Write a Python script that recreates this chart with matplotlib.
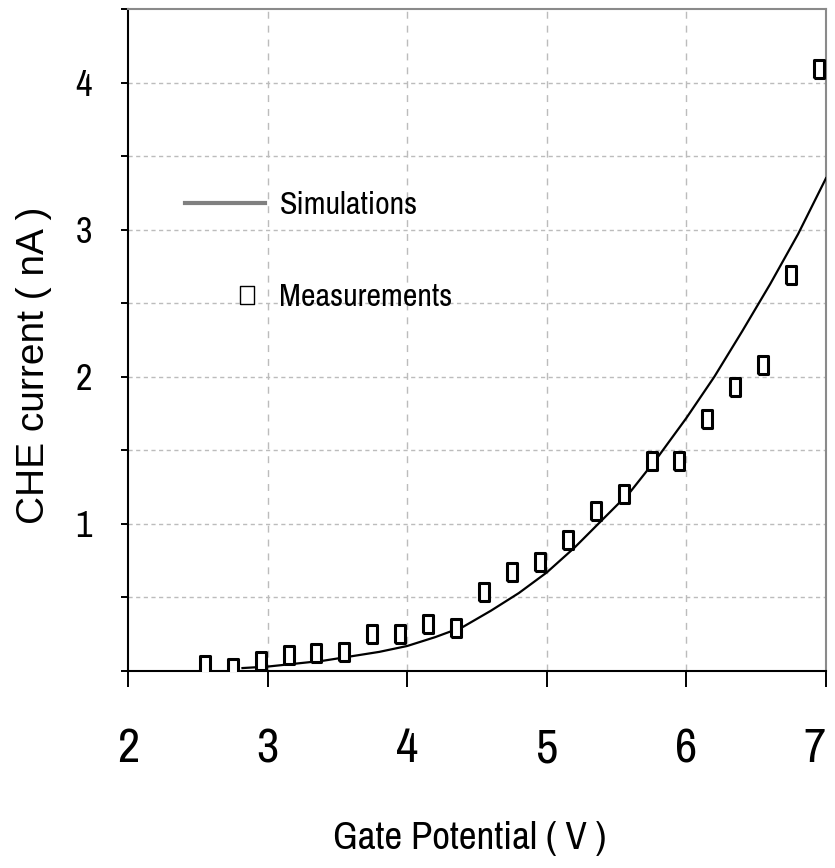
import numpy as np
import matplotlib
matplotlib.use('Agg')
import matplotlib.pyplot as plt
from matplotlib import font_manager
from matplotlib.lines import Line2D
from matplotlib.legend_handler import HandlerLine2DCompound

# measured hot-electron current vs gate voltage
meas_vg = [2.55, 2.75, 2.95, 3.15, 3.35, 3.55, 3.75, 3.95, 4.15, 4.35, 4.55, 4.75,
           4.95, 5.15, 5.35, 5.55, 5.75, 5.95, 6.15, 6.35, 6.55, 6.75, 6.95]
meas_i = [0.04, 0.02, 0.07, 0.11, 0.12, 0.13, 0.25, 0.25, 0.32, 0.29, 0.54, 0.67,
          0.74, 0.89, 1.09, 1.20, 1.43, 1.43, 1.71, 1.93, 2.08, 2.69, 4.09]

# simulated curve
sim_vg = [2.82, 3.0, 3.2, 3.4, 3.6, 3.8, 4.0, 4.2, 4.4, 4.6, 4.8, 5.0,
          5.2, 5.4, 5.6, 5.8, 6.0, 6.2, 6.4, 6.6, 6.8, 7.0]
sim_i = [0.02, 0.03, 0.05, 0.07, 0.10, 0.13, 0.17, 0.23, 0.30, 0.41, 0.53, 0.67,
         0.84, 1.03, 1.22, 1.46, 1.72, 2.00, 2.31, 2.63, 2.97, 3.35]

x_ticks = [2, 3, 4, 5, 6, 7]
y_ticks = [0, 0.5, 1, 1.5, 2, 2.5, 3, 3.5, 4, 4.5]
y_tick_labels = ['', '', '1', '', '2', '', '3', '', '4', '']

# prefer a narrow face if one is installed
names = sorted({f.name for f in font_manager.fontManager.ttflist})
narrow_names = [n for n in names if 'Narrow' in n or 'Condensed' in n]
narrow = narrow_names[0] if narrow_names else 'Liberation Sans'
squeeze = 1.0 if narrow_names else 0.82

# tall thin box marker
box = [(-0.3, -0.5), (0.3, -0.5), (0.3, 0.5), (-0.3, 0.5), (-0.3, -0.5)]
box_wide = [(-0.38, -0.5), (0.38, -0.5), (0.38, 0.5), (-0.38, 0.5), (-0.38, -0.5)]


class SideMarker(HandlerLine2DCompound):
    # put the legend marker near the label instead of the middle of the handle
    def get_xdata(self, legend, xdescent, ydescent, width, height, fontsize):
        xdata, xm = super().get_xdata(legend, xdescent, ydescent, width, height, fontsize)
        return xdata, [-xdescent + 0.78 * width]


fig = plt.figure(figsize=(8.35, 8.68), dpi=100)
ax = fig.add_axes([128/835, 1 - 671/868, 698/835, 662/868])

ax.plot(sim_vg, sim_i, color='black', lw=1.6, zorder=3)
ax.plot(meas_vg, meas_i, ls='none', marker=box, ms=12.5, mfc='white', mec='black',
        mew=2.2, zorder=4)

ax.set_xlim(2, 7)
ax.set_ylim(0, 4.5)
ax.set_xticks(x_ticks)
ax.set_xticklabels([str(t) for t in x_ticks], fontfamily=narrow, fontsize=35 * squeeze)
ax.get_xticklabels()[-1].set_ha('right')
ax.set_yticks(y_ticks)
ax.set_yticklabels(y_tick_labels, fontfamily=narrow, fontsize=26 * squeeze)
ax.tick_params(axis='x', direction='out', length=11.5, width=1.4, pad=29)
ax.tick_params(axis='y', direction='out', length=5, width=1.4, pad=21)

# grid: dotted rows, dashed columns
for y in y_ticks[1:-1]:
    ax.axhline(y, color='#bcbcbc', lw=1, ls=(0, (3, 2.5)), zorder=1)
for x in x_ticks[1:-1]:
    ax.axvline(x, color='#bcbcbc', lw=1, ls=(0, (5, 5)), zorder=1)

for side in ['left', 'bottom']:
    ax.spines[side].set_color('black')
    ax.spines[side].set_linewidth(1.5)
for side in ['top', 'right']:
    ax.spines[side].set_color('#8a8a8a')
    ax.spines[side].set_linewidth(1.5)

ax.set_xlabel('Gate Potential ( V )', fontfamily=narrow, fontsize=28 * squeeze, va='center')
ax.xaxis.set_label_coords((470 - 128) / 698, (671 - 838) / 662)
ax.set_ylabel('CHE current ( nA )', fontfamily='Liberation Sans', fontsize=28, va='center')
ax.yaxis.set_label_coords((34 - 128) / 698, (671 - 365) / 662)

sim_key = Line2D([], [], color='#808080', lw=3)
meas_key = Line2D([], [], ls='none', marker=box_wide, ms=13, mfc='white', mec='black', mew=1)
ax.legend([sim_key, meas_key], ['Simulations', 'Measurements'],
          loc='upper left', bbox_to_anchor=((185 - 128) / 698, (671 - 191) / 662),
          frameon=False, borderpad=0, borderaxespad=0, handlelength=80 / (23 * squeeze * 100 / 72),
          handletextpad=0.45, labelspacing=2.0, prop={'family': narrow, 'size': 23 * squeeze},
          handler_map={meas_key: SideMarker(numpoints=1)})

fig.savefig('out.png', dpi=100)
